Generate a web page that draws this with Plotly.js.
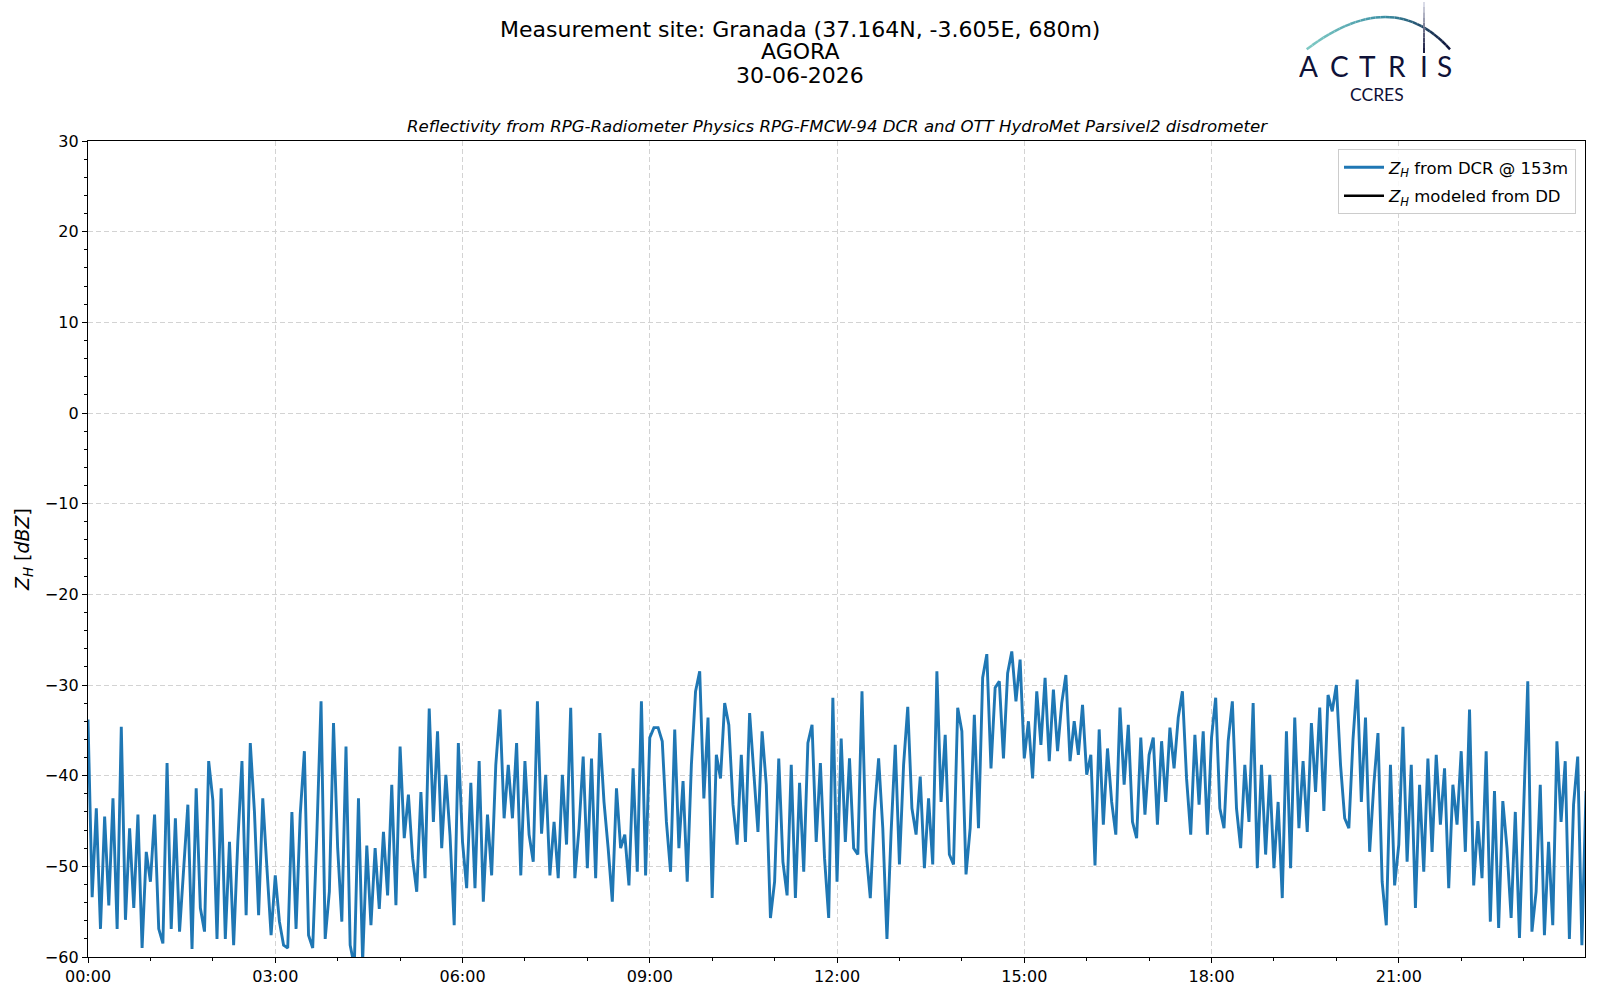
<!DOCTYPE html>
<html>
<head>
<meta charset="utf-8">
<script src="https://cdn.plot.ly/plotly-3.0.1.min.js"></script>
<style>
  html, body { margin: 0; padding: 0; background: #fff; }
  #chart { width: 1600px; height: 1000px; }
</style>
</head>
<body>
<div id="chart"></div>
<script>
// Z_H from the DCR at 153 m, one reading every 4 minutes from 00:00 (one line per hour)
var zh_00_06 = [
  -33.8, -53.4, -43.6, -56.9, -44.5, -54.3, -42.5, -56.9, -34.6, -55.9, -45.8, -54.6, -44.3, -59, -48.4,
  -51.7, -44.3, -56.9, -58.5, -38.6, -56.9, -44.7, -57.2, -50.6, -43.2, -59.1, -41.4, -54.6, -57.2, -38.4,
  -42.7, -58, -41.4, -58, -47.3, -58.7, -47.3, -38.4, -55.4, -36.4, -44, -55.4, -42.5, -50.2, -57.6,
  -51, -56.1, -58.7, -59, -44, -56.9, -44.3, -37.3, -57.6, -59, -46.4, -31.8, -58, -52.8, -34.2,
  -48, -56.1, -36.8, -58.7, -61, -42.5, -60.5, -47.7, -56.5, -48, -54.7, -46.2, -53.2, -41, -54.3,
  -36.8, -46.9, -42.1, -49.1, -52.8, -41.8, -51.3, -32.6, -45.1, -35.1, -48, -39.9, -46.6, -56.5, -36.4
];
var zh_06_12 = [
  -47.3, -52.4, -40.8, -52.4, -38.4, -53.9, -44.3, -51, -38.8, -32.7, -44.7, -38.8, -44.7, -36.4, -51,
  -38.4, -46.5, -49.5, -31.8, -46.4, -39.9, -51, -45.1, -51.3, -39.9, -47.6, -32.5, -51.3, -45.8, -37.9,
  -50.2, -38.1, -51.3, -35.3, -42.9, -48, -53.9, -41.4, -48, -46.5, -52.1, -39.2, -50.6, -31.8, -51,
  -35.8, -34.7, -34.7, -36.2, -45.1, -50.6, -34.9, -48, -40.6, -51.7, -38.8, -30.7, -28.5, -42.5, -33.6,
  -53.5, -37.7, -40.3, -32, -34.4, -43.2, -47.6, -37.7, -47.3, -33.1, -39.2, -46.2, -35.1, -41, -55.7,
  -51.7, -38.1, -49.5, -53.2, -38.8, -53.5, -40.8, -50.6, -36.4, -34.4, -47.3, -38.6, -49.1, -55.7, -31.4
];
var zh_12_18 = [
  -51.7, -35.9, -47.3, -38.1, -48, -48.7, -30.7, -48.4, -53.5, -43.9, -38.1, -45.8, -58, -46.2, -36.6,
  -49.8, -38.8, -32.4, -43.6, -46.5, -40.1, -50.2, -42.5, -49.8, -28.5, -42.9, -35.5, -48.7, -49.8, -32.5,
  -35.1, -50.9, -45.8, -33.3, -45.8, -29.2, -26.6, -39.2, -30.3, -29.6, -38.1, -28.7, -26.3, -31.8, -27.2,
  -38.1, -34, -40.3, -30.7, -36.6, -29.2, -38.4, -30.5, -37.3, -32, -28.9, -38.4, -34, -37.7, -32.2,
  -39.9, -37.7, -49.9, -34.9, -45.4, -37, -42.9, -46.5, -32.5, -41, -34.4, -45.1, -46.9, -35.8, -44.3,
  -37.7, -35.8, -45.4, -36.2, -42.9, -34.7, -39.2, -33.6, -30.7, -40.3, -46.5, -35.5, -43.2, -35.1, -46.5
];
var zh_18_24 = [
  -35.8, -31.4, -43.6, -45.8, -36.2, -31.8, -43.6, -48, -38.8, -45.1, -32, -50.2, -38.8, -48.7, -39.9,
  -50.2, -42.9, -53.5, -35.1, -50.2, -33.6, -45.8, -38.4, -46.2, -34.2, -41.8, -32.5, -43.9, -31.1, -32.9,
  -30, -38.8, -44.7, -45.8, -36, -29.4, -42.9, -33.6, -48.4, -41, -35.3, -51.7, -56.5, -38.8, -52.1,
  -47.6, -34.6, -49.5, -38.8, -54.6, -41, -50.6, -38.1, -48.4, -37.7, -45.4, -39.2, -52.4, -41, -45.4,
  -37.3, -48.4, -32.7, -52.1, -45, -51.3, -37.3, -56.1, -41.7, -56.8, -42.8, -48, -55.7, -44, -57.9,
  -44.6, -29.6, -57.2, -52.8, -41, -57.6, -47.3, -56.5, -36.2, -45.1, -38.4, -58, -43.2, -37.9, -58.7, -41.7
];
var stepMinutes = 4;
var dayStart = Date.UTC(2026, 5, 30);

var zh = zh_00_06.concat(zh_06_12, zh_12_18, zh_18_24);
var times = zh.map(function (v, i) {
  return new Date(dayStart + i * stepMinutes * 60000).toISOString().slice(0, 16).replace('T', ' ');
});

// plot area in page pixels, used to place the header texts and logo
var L = 88, R = 1585, T = 141, B = 957;
function px(X) { return (X - L) / (R - L); }
function py(Y) { return (B - Y) / (B - T); }

var navy = '#0f1238';
var font = 'DejaVu Sans';

var trace1 = {
  x: times,
  y: zh,
  name: '<i>Z</i><sub><i>H</i></sub> from DCR @ 153m',
  type: 'scatter',
  mode: 'lines',
  line: {color: '#1f77b4', width: 2.9},
  legendgroup: 'a'
};

var trace2 = {
  x: [times[0]],
  y: [null],
  name: '<i>Z</i><sub><i>H</i></sub> modeled from DD',
  type: 'scatter',
  mode: 'lines',
  line: {color: '#000000', width: 2.5},
  legendgroup: 'b'
};

function note(text, X, Y, size, extra) {
  var a = {
    text: text, x: px(X), y: py(Y), xref: 'paper', yref: 'paper',
    xanchor: 'center', yanchor: 'middle', showarrow: false,
    font: {family: font, size: size, color: '#000'}
  };
  for (var k in extra) a[k] = extra[k];
  return a;
}

var annotations = [
  note('Measurement site: Granada (37.164N, -3.605E, 680m)', 800, 29, 22),
  note('AGORA', 800, 52, 22),
  note('30-06-2026', 800, 75, 22),
  note('<i>Reflectivity from RPG-Radiometer Physics RPG-FMCW-94 DCR and OTT HydroMet Parsivel2 disdrometer</i>', 837, 126, 16.6)
];

// ACTRIS CCRES logo
var letters = ['A', 'C', 'T', 'R', 'I', 'S'];
var letterX = [1308, 1339, 1367, 1397, 1424, 1444];
letters.forEach(function (c, i) {
  annotations.push(note(c, letterX[i], 66, 28, {font: {family: 'Lato', size: 28, color: navy}, height: 24, valign: 'middle'}));
});
annotations.push(note('CCRES', 1377, 94, 17.5, {font: {family: 'Lato', size: 17.5, color: navy}, height: 16, valign: 'middle'}));

function mix(c1, c2, t) {
  var a = [1, 3, 5].map(function (j) { return parseInt(c1.substr(j, 2), 16); });
  var b = [1, 3, 5].map(function (j) { return parseInt(c2.substr(j, 2), 16); });
  return 'rgb(' + a.map(function (v, j) { return Math.round(v + (b[j] - v) * t); }).join(',') + ')';
}

var shapes = [];
var nSeg = 30;
for (var s = 0; s < nSeg; s++) {
  var pts = [s / nSeg, (s + 1) / nSeg].map(function (t) {
    var u = 1 - t;
    return [u * u * 1306.7 + 2 * t * u * 1392 + t * t * 1450,
            u * u * 49.3 + 2 * t * u * (-15.3) + t * t * 49.3];
  });
  var tc = (s + 0.5) / nSeg;
  var col = tc < 0.5 ? mix('#7fcac4', '#3a8ea3', tc / 0.5) : mix('#3a8ea3', navy, (tc - 0.5) / 0.5);
  shapes.push({type: 'line', xref: 'paper', yref: 'paper',
    x0: px(pts[0][0]), y0: py(pts[0][1]), x1: px(pts[1][0]), y1: py(pts[1][1]),
    line: {color: col, width: 2.5}});
}
for (var v = 0; v < 10; v++) {
  shapes.push({type: 'line', xref: 'paper', yref: 'paper',
    x0: px(1424), y0: py(2 + v * 5.1), x1: px(1424), y1: py(2 + (v + 1) * 5.1),
    line: {color: mix('#e4e6f0', navy, (v + 0.5) / 10), width: 2}});
}

var axisCommon = {
  showline: true, mirror: true, linecolor: '#000', linewidth: 1.2,
  ticks: 'outside', ticklen: 5, tickwidth: 1, tickcolor: '#000',
  tickfont: {family: font, size: 16, color: '#000'},
  showgrid: true, gridcolor: '#d3d3d3', gridwidth: 1, griddash: '5px,3px',
  zeroline: false
};

var layout = {
  width: 1600, height: 1000,
  margin: {l: L, r: 1600 - R, t: T, b: 1000 - B},
  paper_bgcolor: '#fff', plot_bgcolor: '#fff',
  showlegend: true,
  legend: {
    x: px(1576), y: py(149), xanchor: 'right', yanchor: 'top',
    bgcolor: 'rgba(255,255,255,0.85)', bordercolor: '#cccccc', borderwidth: 1,
    font: {family: font, size: 16.5, color: '#000'},
    traceorder: 'grouped', tracegroupgap: 4, itemwidth: 40
  },
  xaxis: Object.assign({}, axisCommon, {
    type: 'date',
    range: ['2026-06-30 00:00', '2026-06-30 23:59'],
    tick0: '2026-06-30 00:00', dtick: 3 * 3600000, tickformat: '%H:%M',
    minor: {dtick: 3600000, ticks: 'outside', ticklen: 3, tickcolor: '#000', showgrid: false}
  }),
  yaxis: Object.assign({}, axisCommon, {
    range: [-60, 30], tick0: 0, dtick: 10,
    minor: {dtick: 2, ticks: 'outside', ticklen: 3, tickcolor: '#000', showgrid: false},
    title: {text: '<i>Z</i><sub><i>H</i></sub> [<i>dBZ</i>]', font: {family: font, size: 19, color: '#000'}, standoff: 10}
  }),
  annotations: annotations,
  shapes: shapes
};

Plotly.newPlot('chart', [trace1, trace2], layout, {displayModeBar: false, staticPlot: true});
</script>
</body>
</html>
